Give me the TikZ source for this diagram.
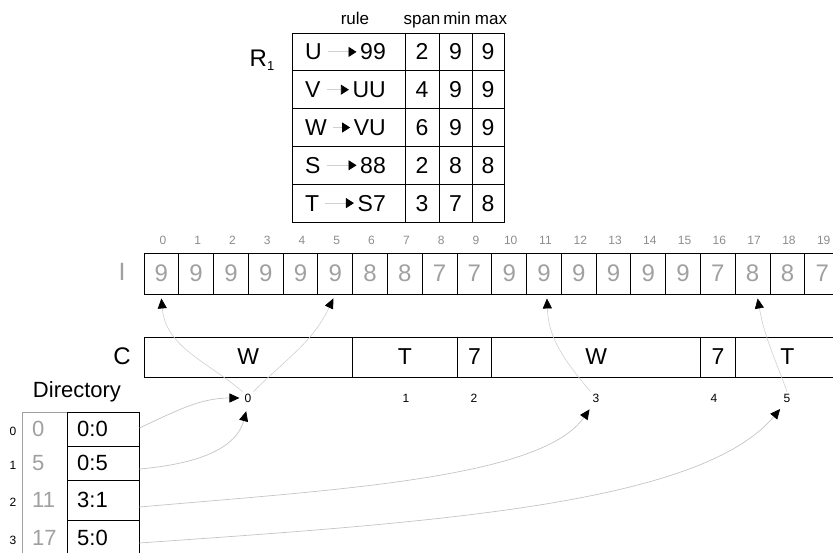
\documentclass[tikz,border=0pt]{standalone}
\usepackage{fontspec}
\setmainfont{Liberation Sans}
\usetikzlibrary{arrows.meta}
\definecolor{valgrey}{HTML}{A0A0A0}
\definecolor{idxgrey}{HTML}{8C8C8C}
\definecolor{linkgrey}{HTML}{C4C4C4}
\definecolor{dotgrey}{HTML}{D0D0D0}
\newcommand\fsz[1]{\fontsize{#1}{#1}\selectfont}
\begin{document}
\begin{tikzpicture}[x=1pt,y=-1pt,
  box/.style={draw=black,line width=0.9pt,inner sep=0pt,anchor=center},
  big/.style={font=\fsz{23}},
  small/.style={font=\fsz{12},inner sep=2pt},
  hdr/.style={font=\fsz{17},anchor=base},
  link/.style={draw=linkgrey,line width=0.7pt,-{Triangle[length=10pt,width=9pt,black]}},
  ptr/.style={draw=dotgrey,line width=0.6pt,-{Triangle[length=10pt,width=9pt,black]}},
  rulearr/.style={draw=dotgrey,line width=0.8pt,-{Triangle[length=8pt,width=10pt,black]}}]
\clip (0,0) rectangle (833,553);

% ---- R1 table ----
\node[font=\fsz{24}] (R1) at (262,60) {R\raisebox{-4pt}{\fsz{13}1}};
\node[hdr] (hrule) at (355,25) {rule};
\node[hdr] (hspan) at (422,25) {span};
\node[hdr] (hmin) at (457,25) {min};
\node[hdr] (hmax) at (491,25) {max};
\foreach \l/\r/\s/\mn/\mx [count=\k from 0] in {U/99/2/9/9, V/UU/4/9/9, W/VU/6/9/9, S/88/2/8/8, T/S7/3/7/8}{
  \pgfmathsetmacro\yy{33+37.8*(\k+0.5)}
  \node[box,minimum width=113pt,minimum height=37.8pt] (rc\k) at (348.5,\yy) {};
  \node[box,big,minimum width=34pt,minimum height=37.8pt] (rsp\k) at (422,\yy) {\s};
  \node[box,big,minimum width=33pt,minimum height=37.8pt] (rmn\k) at (455.5,\yy) {\mn};
  \node[box,big,minimum width=32pt,minimum height=37.8pt] (rmx\k) at (488,\yy) {\mx};
  \node[big,anchor=west,inner sep=2pt] (rl\k) at (303,\yy) {\l};
  \node[big,anchor=east,inner sep=2pt] (rr\k) at (388,\yy) {\r};
  \draw[rulearr,shorten <=4pt,shorten >=1.5pt] (rl\k.east) -- (rr\k.west);
}

% ---- I array ----
\node[font=\fsz{25},text=valgrey] (Ilab) at (122,272) {I};
\foreach \v [count=\k from 0] in {9,9,9,9,9,9,8,8,7,7,9,9,9,9,9,9,7,8,8,7}{
  \node[box,font=\fsz{24},text=valgrey,minimum width=34.78pt,minimum height=41pt] (i\k) at ({144+34.78*(\k+0.5)},273.5) {\v};
  \node[small,text=idxgrey] (in\k) at ({144+34.78*(\k+0.5)+1.5},240) {\k};
}

% ---- C array ----
\node[font=\fsz{24}] (Clab) at (122,356) {C};
\node[box,big,minimum width=208.7pt,minimum height=40pt] (c0) at (248.35,357) {W};
\node[box,big,minimum width=104.3pt,minimum height=40pt] (c1) at (404.85,357) {T};
\node[box,big,minimum width=34.8pt,minimum height=40pt] (c2) at (474.4,357) {7};
\node[box,big,minimum width=208.7pt,minimum height=40pt] (c3) at (596.15,357) {W};
\node[box,big,minimum width=34.8pt,minimum height=40pt] (c4) at (717.9,357) {7};
\node[box,big,minimum width=104.3pt,minimum height=40pt] (c5) at (787.45,357) {T};
\node[small] (ci0) at (248,398) {0};
\node[small] (ci1) at (406,398) {1};
\node[small] (ci2) at (474,398) {2};
\node[small] (ci3) at (596,398) {3};
\node[small] (ci4) at (714,398) {4};
\node[small] (ci5) at (787,398) {5};

% ---- Directory ----
\node[font=\fsz{22}] (dirlab) at (77,392) {Directory};
\draw[draw=valgrey,line width=0.9pt] (22,556) -- (22,412) -- (67,412);
\node[box,minimum width=72pt,minimum height=34pt] (dc0) at (103,429) {};
\node[box,minimum width=72pt,minimum height=34pt] (dc1) at (103,463) {};
\node[box,minimum width=72pt,minimum height=40pt] (dc2) at (103,500) {};
\node[box,minimum width=72pt,minimum height=36pt] (dc3) at (103,538) {};
\foreach \a/\b/\yy [count=\k from 0] in {0/0:0/429, 5/0:5/463, 11/3:1/500, 17/5:0/538}{
  \node[font=\fsz{22},anchor=west,inner sep=0pt] (dt\k) at (77,\yy) {\b};
  \node[font=\fsz{22},anchor=west,inner sep=0pt,text=valgrey] (dv\k) at (32,\yy) {\a};
  \node[small] (dr\k) at (13,\yy+2) {\k};
}

% ---- pointers from C labels to I ----
\draw[ptr] (ci0.north west) to[out=140,in=-85] ([yshift=-4pt]i0.south);
\draw[ptr] (ci0.north east) to[out=45,in=-115] ([xshift=-2pt,yshift=-4pt]i5.south);
\draw[ptr] (ci3.north west) to[out=130,in=-88] ([xshift=3pt,yshift=-4pt]i11.south);
\draw[ptr] (ci5.north) to[out=110,in=-80] ([xshift=5pt,yshift=-4pt]i17.south);

% ---- links from directory to C labels ----
\draw[link,shorten >=3pt] ([yshift=1pt]dc0.east) to[out=25,in=180] (ci0.west);
\draw[link,shorten >=7pt] ([yshift=-6pt]dc1.east) to[out=5,in=-105] (ci0.south);
\draw[link,shorten >=6pt] ([yshift=-7pt]dc2.east) to[out=5,in=-125,out distance=200pt,in distance=90pt] ([xshift=-3pt]ci3.south);
\draw[link,shorten >=6pt] ([yshift=-5pt]dc3.east) to[out=4,in=-130,out distance=300pt,in distance=130pt] ([xshift=-3pt]ci5.south);
\end{tikzpicture}
\end{document}
